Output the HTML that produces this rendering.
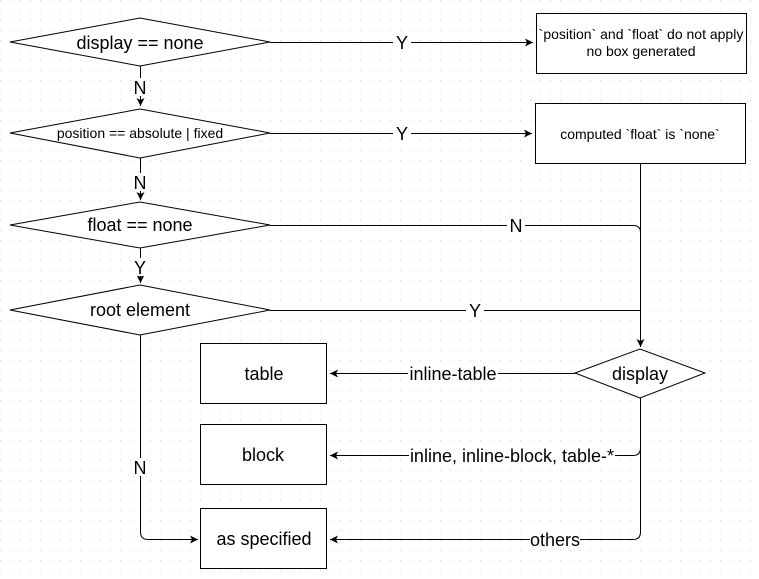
<!DOCTYPE html>
<html><head><meta charset="utf-8"><style>
html,body{margin:0;padding:0;background:#fff}
svg{display:block}
text{font-family:"Liberation Sans",sans-serif;fill:#000}
</style></head><body>
<svg width="759" height="579" viewBox="0 0 759 579" xmlns="http://www.w3.org/2000/svg">
<defs>
<pattern id="g" width="10" height="10" patternUnits="userSpaceOnUse"><rect x="0" y="0" width="1" height="1" fill="#d4d4d4"/></pattern>
<marker id="a" markerWidth="10" markerHeight="10" refX="8" refY="4" orient="auto" markerUnits="userSpaceOnUse"><path d="M0,0 L8,4 L0,8 L2,4 Z" fill="#000"/></marker>
</defs>
<rect width="759" height="579" fill="url(#g)"/>
<g fill="#fff" stroke="#000" stroke-width="1">
<polygon points="10,42 140,18 270,42 140,66"/>
<polygon points="10,133 140,109 270,133 140,158"/>
<polygon points="10,225 140,202 270,225 140,248"/>
<polygon points="10,310 140,285 270,310 140,335"/>
<polygon points="575,373 640,349 705,373 640,398"/>
<rect x="536.5" y="13.5" width="210" height="60"/>
<rect x="535.5" y="103.5" width="210" height="60"/>
<rect x="200.5" y="343.5" width="126" height="60"/>
<rect x="200.5" y="424.5" width="126" height="60"/>
<rect x="200.5" y="508.5" width="126" height="60"/>
</g>
<g fill="none" stroke="#000" stroke-width="1">
<path d="M270,42.5 H533" marker-end="url(#a)"/>
<path d="M270,133.5 H532" marker-end="url(#a)"/>
<path d="M140.5,66 V106" marker-end="url(#a)"/>
<path d="M140.5,158 V200" marker-end="url(#a)"/>
<path d="M140.5,248 V283" marker-end="url(#a)"/>
<path d="M640.5,163 V347" marker-end="url(#a)"/>
<path d="M270,225.5 H633 Q640.5,225.5 640.5,232"/>
<path d="M270,310.5 H640"/>
<path d="M575,373.5 H330" marker-end="url(#a)"/>
<path d="M640.5,398 V448 Q640.5,455.5 633,455.5 H330" marker-end="url(#a)"/>
<path d="M640.5,448 V532 Q640.5,539.5 633,539.5 H330" marker-end="url(#a)"/>
<path d="M140.5,335 V532 Q140.5,539.5 148,539.5 H198" marker-end="url(#a)"/>
</g>
<g font-size="18" text-anchor="middle">
<rect x="393" y="33" width="18" height="18" fill="#fff"/><text x="402" y="49">Y</text>
<rect x="393" y="124" width="18" height="18" fill="#fff"/><text x="402" y="140">Y</text>
<rect x="507" y="216" width="18" height="18" fill="#fff"/><text x="516" y="232">N</text>
<rect x="466" y="301" width="18" height="18" fill="#fff"/><text x="475" y="317">Y</text>
<rect x="131" y="78" width="18" height="18" fill="#fff"/><text x="140" y="94">N</text>
<rect x="131" y="173" width="18" height="18" fill="#fff"/><text x="140" y="189">N</text>
<rect x="131" y="258" width="18" height="18" fill="#fff"/><text x="140" y="274">Y</text>
<rect x="131" y="458" width="18" height="18" fill="#fff"/><text x="140" y="474">N</text>
<rect x="408" y="364" width="90" height="18" fill="#fff"/><text x="453" y="380">inline-table</text>
<rect x="409" y="446" width="206" height="18" fill="#fff"/><text x="512" y="462">inline, inline-block, table-*</text>
<rect x="530" y="530" width="50" height="18" fill="#fff"/><text x="555" y="546">others</text>
<text x="140" y="49">display == none</text>
<text x="140" y="231">float == none</text>
<text x="140" y="316">root element</text>
<text x="640" y="380">display</text>
<text x="264" y="380">table</text>
<text x="263" y="461">block</text>
<text x="264" y="545">as specified</text>
</g>
<g font-size="14" text-anchor="middle">
<text x="140" y="138">position == absolute | fixed</text>
<text x="641" y="39">`position` and `float` do not apply</text>
<text x="641" y="56">no box generated</text>
<text x="640" y="139">computed `float` is `none`</text>
</g>
</svg>
</body></html>
